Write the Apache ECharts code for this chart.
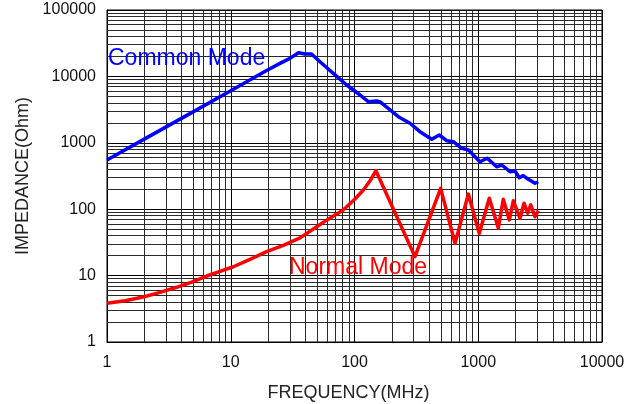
<!DOCTYPE html>
<html>
<head>
<meta charset="utf-8">
<script src="https://cdn.jsdelivr.net/npm/echarts@6/dist/echarts.min.js"></script>
<style>
  html, body { margin: 0; padding: 0; background: #fff; }
  #chart { width: 632px; height: 404px; }
</style>
</head>
<body>
<div id="chart"></div>
<script>
// ---- data ----
var xTickLabels = ['1', '10', '100', '1000', '10000'];
var yTickLabels = ['1', '10', '100', '1000', '10000', '100000'];

var cmFreq = [1, 2, 5, 10, 19.5, 25, 30.1, 35.2, 39.8, 45, 52.6, 67.4, 86.5, 111, 129, 151, 160, 194, 226, 281, 338, 421, 484, 556, 629, 735, 832, 1033, 1183, 1408, 1549, 1808, 1983, 2147, 2312, 2540, 2875, 3055];
var cmZ    = [550, 1135, 2950, 6100, 12300, 15700, 18700, 22700, 21700, 21700, 16600, 11100, 7420, 5250, 4160, 4260, 4160, 3120, 2470, 1970, 1470, 1130, 1310, 1075, 1040, 826, 780, 519, 585, 436, 463, 367, 376, 298, 320, 282, 246, 259];

var nmFreq = [1, 1.4, 2, 2.68, 3.66, 4.83, 6.4, 8.19, 10.5, 14.3, 19.5, 26.6, 36.3, 49.5, 60, 81, 100, 118, 134, 149, 308, 497, 649, 832, 1019, 1228, 1452, 1593, 1783, 1920, 2175, 2343, 2510, 2655, 2875, 3055];
var nmZ    = [3.83, 4.19, 4.8, 5.6, 6.67, 8.0, 9.86, 11.6, 13.6, 17.6, 22.9, 28.6, 37, 54.5, 69, 97, 140, 195, 270, 380, 19.3, 206, 30.6, 169, 43, 146, 52, 141, 69, 134, 73, 123, 87, 116, 77, 95];

var xMinorGrid = [];
[1, 10, 100, 1000].forEach(function (d) { for (var k = 2; k <= 9; k++) xMinorGrid.push(k * d); });
var yMinorGrid = [];
[1, 10, 100, 1000, 10000].forEach(function (d) { for (var k = 2; k <= 9; k++) yMinorGrid.push(k * d); });

function pairs(xs, ys) { return xs.map(function (x, i) { return [x, ys[i]]; }); }

var FONT = 'Liberation Sans, Arial, Helvetica, sans-serif';
var chart = echarts.init(document.getElementById('chart'), null, { renderer: 'canvas' });

var minorLines = xMinorGrid.map(function (v) { return { xAxis: v }; })
  .concat(yMinorGrid.map(function (v) { return { yAxis: v }; }));

chart.setOption({
  animation: false,
  backgroundColor: '#fff',
  grid: {
    left: 107, right: 30, top: 10, bottom: 62,
    containLabel: false, outerBoundsMode: 'none',
    show: true, borderColor: '#000', borderWidth: 1
  },
  xAxis: {
    type: 'log', logBase: 10, min: 1, max: 10000,
    name: 'FREQUENCY(MHz)', nameLocation: 'middle', nameGap: 42,
    nameTextStyle: { fontFamily: FONT, fontSize: 18, color: '#222', padding: [0, 12, 0, 0] },
    axisLine: { show: true, lineStyle: { color: '#000', width: 1 } },
    axisTick: { show: false },
    axisLabel: {
      fontFamily: FONT, fontSize: 16, color: '#111', margin: 13,
      formatter: function (v) { return xTickLabels[Math.round(Math.log10(v))]; }
    },
    splitLine: { show: true, lineStyle: { color: '#000', width: 1 } },
    minorTick: { show: false }, minorSplitLine: { show: false }
  },
  yAxis: {
    type: 'log', logBase: 10, min: 1, max: 100000,
    name: 'IMPEDANCE(Ohm)', nameLocation: 'middle', nameGap: 70, nameRotate: 90,
    nameTextStyle: { fontFamily: FONT, fontSize: 18, color: '#222' },
    axisLine: { show: true, lineStyle: { color: '#000', width: 1 } },
    axisTick: { show: false },
    axisLabel: {
      fontFamily: FONT, fontSize: 16, color: '#111', margin: 11,
      formatter: function (v) { return yTickLabels[Math.round(Math.log10(v))]; }
    },
    splitLine: { show: true, lineStyle: { color: '#000', width: 1 } }
  },
  series: [
    {
      type: 'line', data: [], silent: true,
      markLine: {
        silent: true, symbol: ['none', 'none'], animation: false,
        label: { show: false },
        emphasis: { disabled: true },
        lineStyle: { color: '#2a2a2a', width: 1, type: 'solid' },
        data: minorLines
      }
    },
    {
      name: 'Common Mode', type: 'line', data: pairs(cmFreq, cmZ),
      showSymbol: false, symbol: 'none', smooth: false,
      lineStyle: { color: '#0000ff', width: 3.5, join: 'round' }, z: 5
    },
    {
      name: 'Normal Mode', type: 'line', data: pairs(nmFreq, nmZ),
      showSymbol: false, symbol: 'none', smooth: false,
      lineStyle: { color: '#ff0000', width: 3.5, join: 'round' }, z: 5
    }
  ],
  graphic: [
    { type: 'text', x: 108, y: 59, z: 10,
      style: { text: 'Common Mode', font: '23px ' + FONT, fill: '#0000ff', align: 'left', verticalAlign: 'middle' } },
    { type: 'text', x: 289, y: 268, z: 10,
      style: { text: 'Normal Mode', font: '23px ' + FONT, fill: '#ff0000', align: 'left', verticalAlign: 'middle' } }
  ]
});
</script>
</body>
</html>
